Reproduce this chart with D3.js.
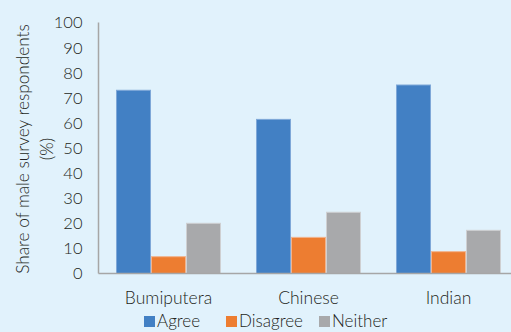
<!DOCTYPE html>
<html>
<head>
<meta charset="utf-8">
<script src="https://cdn.jsdelivr.net/npm/d3@7"></script>
<style>
  body { margin: 0; background: #e1f2fc; overflow: hidden; }
  text { font-family: Lato, "Open Sans", sans-serif; font-weight: 300; fill: #231f20; }
</style>
</head>
<body>
<svg id="chart"></svg>
<script>
// データ
var categories = ["Bumiputera", "Chinese", "Indian"];
var seriesNames = ["Agree", "Disagree", "Neither"];
var agree = [73, 61.4, 75.1];
var disagree = [6.7, 14.4, 8.7];
var neither = [20, 24.4, 17.2];
var yTicks = [0, 10, 20, 30, 40, 50, 60, 70, 80, 90, 100];

var colors = ["#4280c4", "#ed7d31", "#a8a9ab"];
var strokes = ["#7fa8d8", "#f1b48e", "#cfd0d2"];

var W = 511, H = 332;
var margin = {top: 22.5, left: 98.5, bottom: 58.5};
var plotW = 420;
var plotH = H - margin.top - margin.bottom;

var svg = d3.select("#chart").attr("width", W).attr("height", H);
svg.append("rect").attr("width", W).attr("height", H).attr("fill", "#e1f2fc");

var g = svg.append("g").attr("transform", "translate(" + margin.left + "," + margin.top + ")");

// スケール
var x0 = d3.scaleBand().domain(categories).range([0, plotW]).paddingInner(0.25).paddingOuter(0.125);
var x1 = d3.scaleBand().domain(seriesNames).range([0, x0.bandwidth()]);
var y = d3.scaleLinear().domain([0, 100]).range([plotH, 0]);

// y軸ラベル
g.selectAll(".ytick")
  .data(yTicks)
  .enter().append("text")
  .attr("x", -16)
  .attr("y", function(d) { return y(d); })
  .attr("dy", "0.36em")
  .attr("text-anchor", "end")
  .style("font-size", "16.5px")
  .text(function(d) { return d; });

// 棒
var rows = categories.map(function(c, i) {
  return [agree[i], disagree[i], neither[i]];
});
var groups = g.selectAll(".grp")
  .data(rows)
  .enter().append("g")
  .attr("transform", function(d, i) { return "translate(" + x0(categories[i]) + ",0)"; });

groups.selectAll("rect")
  .data(function(d) { return d; })
  .enter().append("rect")
  .attr("x", function(d, j) { return x1(seriesNames[j]) + 0.5; })
  .attr("width", x1.bandwidth() - 1)
  .attr("y", function(d) { return y(d); })
  .attr("height", function(d) { return plotH - y(d); })
  .attr("fill", function(d, j) { return colors[j]; })
  .attr("stroke", function(d, j) { return strokes[j]; })
  .attr("stroke-width", 1);

// 軸線
g.append("line").attr("x1", 0).attr("x2", 0).attr("y1", 0).attr("y2", plotH)
  .attr("stroke", "#a6a6a6").attr("stroke-width", 1.5);
g.append("line").attr("x1", 0).attr("x2", W).attr("y1", plotH).attr("y2", plotH)
  .attr("stroke", "#a6a6a6").attr("stroke-width", 1.5);

// x軸ラベル
g.selectAll(".xlab")
  .data(categories)
  .enter().append("text")
  .attr("x", function(d) { return x0(d) + x0.bandwidth() / 2; })
  .attr("y", plotH + 30)
  .attr("text-anchor", "middle")
  .style("font-size", "17.5px")
  .text(function(d) { return d; });

// y軸タイトル
var yt = svg.append("text")
  .attr("transform", "translate(23,149) rotate(-90)")
  .attr("text-anchor", "middle")
  .style("font-size", "17.2px");
yt.append("tspan").attr("x", 0).attr("dy", "0.35em").text("Share of male survey respondents");
yt.append("tspan").attr("x", 0).attr("dy", "1.4em").text("(%)");

// 凡例
var legendX = [144, 226, 319];
var leg = svg.selectAll(".leg")
  .data(seriesNames)
  .enter().append("g")
  .attr("transform", function(d, i) { return "translate(" + legendX[i] + ",316)"; });
leg.append("rect").attr("width", 11).attr("height", 11)
  .attr("fill", function(d, i) { return colors[i]; });
leg.append("text").attr("x", 13).attr("y", 11)
  .style("font-size", "17px")
  .text(function(d) { return d; });
</script>
</body>
</html>
